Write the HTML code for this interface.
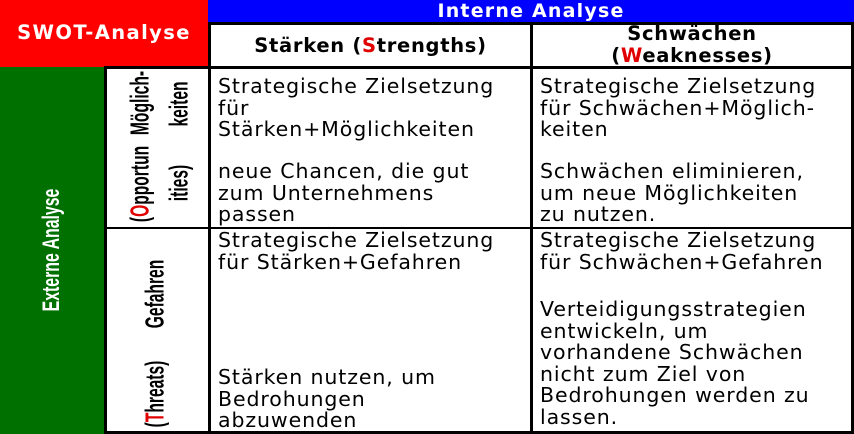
<!DOCTYPE html>
<html><head><meta charset="utf-8"><style>
*{margin:0;padding:0;box-sizing:border-box}
body{width:854px;height:434px;background:#fff;position:relative;overflow:hidden;font-family:"DejaVu Sans","Liberation Sans",sans-serif}
.a{position:absolute}
.t{position:absolute;font-size:20.5px;line-height:21.6px;letter-spacing:0.9px;color:#000;white-space:nowrap}
.r{position:absolute;white-space:nowrap;font-family:"Liberation Sans",sans-serif;font-weight:bold;font-size:26px;color:#000;transform:translate(-50%,-50%) rotate(-90deg) scale(0.6,1)}
.red{color:#e00000}
.h{font-weight:bold;font-size:19.5px;letter-spacing:0.7px}
</style></head><body>
<div class="a" style="left:0;top:0;width:208px;height:67px;background:#ff0000"></div>
<div class="a" style="left:0;top:21px;width:208px;text-align:center;color:#fff;font-weight:bold;font-size:19.5px;letter-spacing:1.4px">SWOT-Analyse</div>
<div class="a" style="left:208px;top:0;width:646px;height:22px;background:#0000ff"></div>
<div class="a" style="left:208px;top:0px;width:646px;text-align:center;color:#fff;font-weight:bold;font-size:19px;line-height:22px;letter-spacing:1.2px">Interne Analyse</div>
<div class="a" style="left:0;top:67px;width:104px;height:367px;background:#007000"></div>
<div class="r" style="left:52px;top:250px;color:#fff;font-size:24px;transform:translate(-50%,-50%) rotate(-90deg) scale(0.66,1)">Externe Analyse</div>

<div class="a" style="left:208px;top:22px;width:646px;height:3px;background:#000"></div>
<div class="a" style="left:104px;top:66px;width:750px;height:3px;background:#000"></div>
<div class="a" style="left:104px;top:227px;width:750px;height:2px;background:#000"></div>
<div class="a" style="left:104px;top:431px;width:750px;height:3px;background:#000"></div>
<div class="a" style="left:104px;top:66px;width:3px;height:368px;background:#000"></div>
<div class="a" style="left:208px;top:22px;width:3px;height:412px;background:#000"></div>
<div class="a" style="left:530px;top:22px;width:3px;height:412px;background:#000"></div>
<div class="a" style="left:851px;top:22px;width:3px;height:412px;background:#000"></div>

<div class="a h" style="left:211px;top:34px;width:319px;text-align:center">Stärken (<span class="red">S</span>trengths)</div>
<div class="a h" style="left:533px;top:23px;width:318px;text-align:center;line-height:22px">Schwächen<br>(<span class="red">W</span>eaknesses)</div>

<div class="r" style="left:140px;top:184px">(<span class="red">O</span>pportun</div>
<div class="r" style="left:140px;top:103px">Möglich-</div>
<div class="r" style="left:179px;top:183px">ities)</div>
<div class="r" style="left:179px;top:104px">keiten</div>
<div class="r" style="left:155px;top:294px">Gefahren</div>
<div class="r" style="left:155px;top:394px">(<span class="red">T</span>hreats)</div>

<div class="t" style="left:218px;top:76px">Strategische Zielsetzung<br>für<br>Stärken+Möglichkeiten</div>
<div class="t" style="left:218px;top:161px">neue Chancen, die gut<br>zum Unternehmens<br>passen</div>
<div class="t" style="left:540px;top:76px">Strategische Zielsetzung<br>für Schwächen+Möglich-<br>keiten</div>
<div class="t" style="left:540px;top:161px">Schwächen eliminieren,<br>um neue Möglichkeiten<br>zu nutzen.</div>
<div class="t" style="left:218px;top:230px">Strategische Zielsetzung<br>für Stärken+Gefahren</div>
<div class="t" style="left:218px;top:367px">Stärken nutzen, um<br>Bedrohungen<br>abzuwenden</div>
<div class="t" style="left:540px;top:230px">Strategische Zielsetzung<br>für Schwächen+Gefahren</div>
<div class="t" style="left:540px;top:299px">Verteidigungsstrategien<br>entwickeln, um<br>vorhandene Schwächen<br>nicht zum Ziel von<br>Bedrohungen werden zu<br>lassen.</div>
</body></html>
